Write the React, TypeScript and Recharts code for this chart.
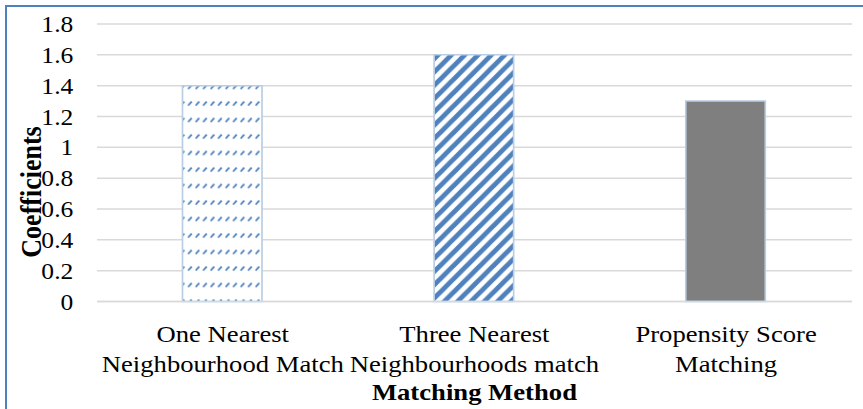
import React from 'react';
import { BarChart, Bar, XAxis, YAxis, CartesianGrid, Cell, Label } from 'recharts';

// values
const methods = [
  'One Nearest Neighbourhood Match',
  'Three Nearest Neighbourhoods match',
  'Propensity Score Matching',
];
const methodLines = [
  ['One Nearest', 'Neighbourhood Match'],
  ['Three Nearest', 'Neighbourhoods match'],
  ['Propensity Score', 'Matching'],
];
const coefficients = [1.4, 1.6, 1.3];
const yTicks = [0, 0.2, 0.4, 0.6, 0.8, 1, 1.2, 1.4, 1.6, 1.8];

const data = methods.map((name, i) => ({ name, value: coefficients[i] }));

// the original picture is a bit wider than tall, so the chart is drawn narrower and stretched
const OUT_W = 863;
const CHART_W = 777;
const STRETCH = OUT_W / CHART_W;

const FONT = '"Liberation Serif", "Times New Roman", serif';
const BLUE = '#4F81BD';
const OUTLINE = '#B9CDE5';
const fills = ['url(#dashDiag)', 'url(#wideDiag)', '#7F7F7F'];

const MethodTick = (props: any) => {
  const { x, y, payload } = props;
  const idx = methods.indexOf(payload.value);
  const lines = methodLines[idx] || [payload.value];
  return (
    <text x={x} y={y} textAnchor="middle" fill="#000" fontFamily={FONT} fontSize={24}>
      {lines.map((ln, i) => (
        <tspan key={i} x={x} y={y + 40.5 + i * 30}>
          {ln}
        </tspan>
      ))}
    </text>
  );
};

export default function App() {
  return (
    <div
      style={{
        position: 'absolute',
        left: 0,
        top: 0,
        width: OUT_W,
        height: 409,
        overflow: 'hidden',
        background: '#fff',
      }}
    >
      {/* frame of the chart area, cut off at right and bottom */}
      <div
        style={{
          position: 'absolute',
          left: 5,
          top: 5,
          width: 900,
          height: 500,
          borderTop: `2px solid ${BLUE}`,
          borderLeft: `2px solid ${BLUE}`,
        }}
      />
      <div
        style={{
          position: 'absolute',
          left: 0,
          top: 0,
          transform: `scaleX(${STRETCH})`,
          transformOrigin: '0 0',
        }}
      >
        <BarChart
          width={CHART_W}
          height={409}
          data={data}
          margin={{ top: 24, right: 10, left: 0, bottom: 37.5 }}
          barSize={71.6}
        >
          <defs>
            <pattern id="dashDiag" patternUnits="userSpaceOnUse" width={6.75} height={16.5}>
              <rect width={6.75} height={16.5} fill="#fff" />
              <path d="M0.6,6.6 L3.9,2.6" stroke={BLUE} strokeWidth={1.7} />
            </pattern>
            <pattern id="wideDiag" patternUnits="userSpaceOnUse" width={12} height={13.3}>
              <rect width={12} height={13.3} fill="#fff" />
              <path
                d="M-3,16.625 L15,-3.325 M-3,3.325 L3,-3.325 M9,16.625 L15,9.975"
                stroke={BLUE}
                strokeWidth={4.6}
              />
            </pattern>
          </defs>
          <CartesianGrid vertical={false} stroke="#D9D9D9" strokeWidth={1.5} />
          <XAxis
            dataKey="name"
            interval={0}
            height={70}
            tickSize={0}
            tickMargin={0}
            tickLine={false}
            axisLine={{ stroke: '#D9D9D9', strokeWidth: 1.5 }}
            tick={<MethodTick />}
          >
            <Label
              content={(p: any) => {
                const vb = p.viewBox || {};
                return (
                  <text
                    x={vb.x + vb.width / 2}
                    y={vb.y + 98.5}
                    textAnchor="middle"
                    fontFamily={FONT}
                    fontSize={24}
                    fontWeight="bold"
                    fill="#000"
                  >
                    Matching Method
                  </text>
                );
              }}
            />
          </XAxis>
          <YAxis
            domain={[0, 1.8]}
            ticks={yTicks}
            interval={0}
            width={87.3}
            tickSize={0}
            tickMargin={21.3}
            axisLine={false}
            tickLine={false}
            tick={{ fill: '#000', fontFamily: FONT, fontSize: 23 }}
          >
            <Label
              content={() => (
                <text
                  x={0}
                  y={0}
                  transform="translate(36.5,192) rotate(-90)"
                  textAnchor="middle"
                  fontFamily={FONT}
                  fontSize={26}
                  fontWeight="bold"
                  fill="#000"
                >
                  Coefficients
                </text>
              )}
            />
          </YAxis>
          <Bar dataKey="value" isAnimationActive={false} stroke={OUTLINE} strokeWidth={1.5}>
            {data.map((d, i) => (
              <Cell key={d.name} fill={fills[i]} />
            ))}
          </Bar>
        </BarChart>
      </div>
    </div>
  );
}
